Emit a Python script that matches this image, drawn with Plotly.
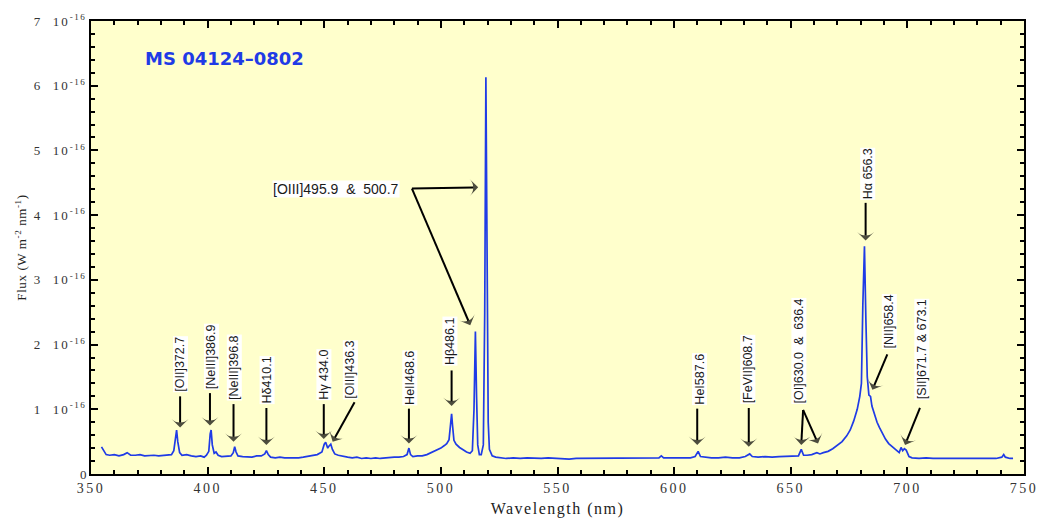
import plotly.graph_objects as go

# ---- spectrum data (wavelength nm, flux in units of 1e-16 W m^-2 nm^-1) ----
wavelength = [
    354.5, 355.5, 356.5, 358, 360, 362, 364, 365.5, 367, 369, 371, 373, 375, 377, 379, 381, 383, 384.5,
    385.5, 386.3, 386.7, 387.2, 388, 389, 391, 393, 395, 397, 398.5, 399.5, 400.5, 401.1, 401.5, 402,
    402.8, 403.6, 404.5, 406, 408, 410, 411, 411.6, 412.2, 413, 415, 417, 419, 421, 423, 424.5, 425.2,
    426, 427, 429, 431, 433, 435, 437, 439, 441, 443, 445, 447, 449, 450, 450.6, 451.5, 452, 452.8,
    453.5, 454.5, 456, 458, 460, 462, 464, 466, 468, 470, 472, 474, 476, 478, 480, 482, 484, 485.5,
    486.3, 487, 488, 490, 492, 494, 496, 498, 500, 501.5, 502.5, 503.5, 504.2, 504.6, 505, 505.6,
    506.5, 508, 509.7, 511, 512.5, 513.5, 514.2, 514.8, 515.3, 515.8, 516.5, 517.3, 518.2, 518.8,
    519.3, 519.8, 520.3, 520.8, 522, 523.5, 525, 528, 531, 534, 537, 540, 543, 546, 549, 552, 555,
    558, 561, 564, 567, 570, 573, 576, 579, 582, 585, 588, 591, 593.5, 594.5, 595.5, 598, 601, 604,
    607, 609, 610.3, 611.3, 613, 616, 619, 622, 625, 628, 630.5, 632.4, 633.5, 636, 639, 642, 645,
    648, 651, 653.3, 654.5, 655.5, 657, 659, 661.2, 662.5, 664, 666, 668, 670, 672, 674, 675.5, 677,
    678.5, 679.6, 680.3, 680.9, 681.6, 682.2, 682.8, 683.5, 684.2, 684.8, 685.9, 687, 688, 689.5,
    690.6, 692, 693.5, 695, 696.5, 697.3, 698, 698.7, 699.5, 700.7, 702, 705, 708, 711, 714, 717, 720,
    723, 726, 729, 732, 735, 738, 740.5, 741.3, 742, 744, 745.3,
]
flux = [
    0.42, 0.36, 0.30, 0.29, 0.30, 0.28, 0.30, 0.33, 0.29, 0.29, 0.30, 0.28, 0.29, 0.29, 0.28, 0.29, 0.30, 0.30,
    0.36, 0.60, 0.68, 0.50, 0.33, 0.29, 0.30, 0.28, 0.27, 0.28, 0.26, 0.29, 0.35, 0.62, 0.68, 0.45,
    0.32, 0.34, 0.29, 0.27, 0.27, 0.28, 0.33, 0.42, 0.34, 0.28, 0.27, 0.27, 0.26, 0.28, 0.28, 0.31, 0.36,
    0.30, 0.26, 0.25, 0.26, 0.25, 0.25, 0.24, 0.25, 0.26, 0.27, 0.28, 0.30, 0.34, 0.46, 0.49, 0.40, 0.43, 0.46,
    0.38, 0.31, 0.29, 0.27, 0.26, 0.25, 0.26, 0.24, 0.25, 0.24, 0.25, 0.24, 0.25, 0.25, 0.26, 0.26, 0.27, 0.30,
    0.40, 0.30, 0.27, 0.28, 0.28, 0.30, 0.33, 0.37, 0.40, 0.44, 0.47, 0.53, 0.80, 0.93, 0.75, 0.52,
    0.46, 0.41, 0.37, 0.34, 0.32, 0.36, 1.00, 2.20, 1.20, 0.45, 0.30, 0.30, 0.45, 2.50,
    6.13, 3.00, 0.80, 0.38, 0.28, 0.26, 0.25, 0.24, 0.25, 0.24, 0.25, 0.24, 0.24, 0.25, 0.24, 0.24, 0.23,
    0.24, 0.24, 0.25, 0.24, 0.24, 0.25, 0.25, 0.24, 0.25, 0.25, 0.24, 0.25, 0.25, 0.28, 0.25, 0.25, 0.25, 0.26,
    0.25, 0.27, 0.35, 0.27, 0.26, 0.25, 0.25, 0.26, 0.25, 0.25, 0.27, 0.31, 0.27, 0.26, 0.27, 0.26, 0.27,
    0.27, 0.27, 0.28, 0.38, 0.29, 0.29, 0.30, 0.33, 0.31, 0.33, 0.35, 0.39, 0.44, 0.50, 0.59, 0.68, 0.82,
    1.00, 1.20, 1.40, 2.60, 3.52, 2.40, 1.50, 1.22, 1.20, 1.05, 0.92, 0.80, 0.72, 0.61,
    0.54, 0.47, 0.42, 0.37, 0.33, 0.41, 0.36, 0.39, 0.37, 0.27, 0.25, 0.24, 0.25, 0.24, 0.24, 0.25, 0.24,
    0.25, 0.25, 0.24, 0.25, 0.24, 0.24, 0.26, 0.30, 0.26, 0.24, 0.24,
]

# ---- line labels: text, label x (nm), label bottom (flux) ----
label_text = ["[OII]372.7", "[NeIII]386.9", "[NeIII]396.8", "H\u03b4410.1", "H\u03b3 434.0",
              "[OIII]436.3", "HeII468.6", "H\u03b2486.1", "HeI587.6", "[FeVII]608.7",
              "[OI]630.0  &  636.4", "H\u03b1 656.3", "[NII]658.4", "[SII]671.7 & 673.1"]
label_x = [388.2, 401.8, 411.6, 425.6, 449.8, 461.3, 486.7, 503.7, 610.7, 631.5, 653.6, 682.9, 692.3, 706.3]
label_y = [1.25, 1.30, 1.13, 1.07, 1.13, 1.14, 1.05, 1.66, 1.05, 1.07, 1.07, 4.23, 1.93, 1.14]

# ---- arrows: tail (x, y) -> tip (x, y) ----
arrow_tail_x = [388.2, 401.0, 411.1, 425.2, 449.8, 463.0, 486.3, 504.6, 609.9, 632.0, 655.3, 655.3, 682.1, 691.4, 705.4, 487.6, 487.6]
arrow_tail_y = [1.20, 1.25, 1.08, 1.02, 1.08, 1.11, 1.01, 1.60, 1.01, 1.02, 0.99, 0.99, 4.19, 1.85, 1.02, 4.41, 4.41]
arrow_tip_x = [388.2, 401.0, 411.1, 425.2, 449.8, 453.6, 486.3, 504.6, 609.9, 632.0, 654.5, 661.7, 682.1, 685.0, 699.0, 516.0, 512.6]
arrow_tip_y = [0.72, 0.75, 0.50, 0.45, 0.54, 0.50, 0.47, 1.05, 0.45, 0.42, 0.45, 0.47, 3.61, 1.30, 0.45, 4.43, 2.30]

oiii_label = "[OIII]495.9  &  500.7"
title_text = "MS 04124\u20130802"

x_ticks = [350, 400, 450, 500, 550, 600, 650, 700, 750]
y_ticks = [0, 1, 2, 3, 4, 5, 6, 7]

BLUE = "#1F3BE6"
SERIF = "Liberation Serif, Times New Roman, serif"
SANS = "Liberation Sans, Arial, sans-serif"


def spaced(s, px=2):
    return f'<span style="letter-spacing:{px}px">{s}</span>'


x_ticktext = [spaced(str(v), 2.5) for v in x_ticks]
y_ticktext = ["0"] + [spaced(f"{v}  10") + "<sup>" + spaced("-16", 1.5) + "</sup>" for v in y_ticks[1:]]

fig = go.Figure()
fig.add_trace(go.Scatter(x=wavelength, y=flux, mode="lines",
                         line=dict(color=BLUE, width=1.7), hoverinfo="skip", showlegend=False))

# arrows as line segments with arrowhead markers at the tips
ax_x, ax_y, ax_sym, ax_size = [], [], [], []
for tx, ty, hx, hy in zip(arrow_tail_x, arrow_tail_y, arrow_tip_x, arrow_tip_y):
    ax_x += [tx, hx, None]
    ax_y += [ty, hy, None]
    ax_sym += ["circle", "arrow-wide", "circle"]
    ax_size += [0, 12, 0]
fig.add_trace(go.Scatter(x=ax_x, y=ax_y, mode="lines+markers",
                         line=dict(color="black", width=2),
                         marker=dict(symbol=ax_sym, size=ax_size, color="black", angleref="previous",
                                     line=dict(width=0)),
                         connectgaps=False, hoverinfo="skip", showlegend=False))

annotations = []
for t, x, y in zip(label_text, label_x, label_y):
    annotations.append(dict(x=x, y=y, xref="x", yref="y", text=t, showarrow=False,
                            textangle=-90, xanchor="center", yanchor="bottom",
                            bgcolor="white", borderpad=0,
                            font=dict(family=SANS, size=12.5, color="#1a1a1a")))
annotations.append(dict(x=482.5, y=4.40, xref="x", yref="y", text=oiii_label, showarrow=False,
                        xanchor="right", yanchor="middle", bgcolor="white", borderpad=0,
                        font=dict(family=SANS, size=14, color="#1a1a1a")))
annotations.append(dict(x=372.1, y=6.42, xref="x", yref="y", text=f"<b>{title_text}</b>",
                        showarrow=False, xanchor="left", yanchor="middle",
                        font=dict(family="DejaVu Sans, Arial, sans-serif", size=18, color=BLUE)))

fig.update_layout(
    width=1050, height=527,
    margin=dict(l=91, r=17, t=13, b=49),
    paper_bgcolor="white", plot_bgcolor="#FFFFCC",
    annotations=annotations,
    xaxis=dict(range=[350, 750], tickvals=x_ticks, ticktext=x_ticktext, ticks="inside", ticklen=7, tickwidth=2,
               tickcolor="black", showline=True, linecolor="black", linewidth=2,
               mirror="allticks", showgrid=False, zeroline=False,
               minor=dict(dtick=10, ticks="inside", ticklen=4, tickwidth=1.5, tickcolor="black", showgrid=False),
               tickfont=dict(family=SERIF, size=14, color="#333"),
               title=dict(text=spaced("Wavelength (nm)", 1.5), font=dict(family=SERIF, size=16, color="#222"),
                          standoff=8)),
    yaxis=dict(range=[0, 7], tickvals=y_ticks, ticktext=y_ticktext, ticks="inside", ticklen=7,
               tickwidth=2, tickcolor="black", showline=True, linecolor="black", linewidth=2,
               mirror="allticks", showgrid=False, zeroline=False,
               minor=dict(dtick=0.2, ticks="inside", ticklen=4, tickwidth=1.5, tickcolor="black", showgrid=False),
               tickfont=dict(family=SERIF, size=13, color="#333"),
               title=dict(text=spaced("Flux (W m<sup>-2</sup> nm<sup>-1</sup>)", 0.6),
                          font=dict(family=SERIF, size=13, color="#222"), standoff=4)),
)

fig.write_html("out.html")
